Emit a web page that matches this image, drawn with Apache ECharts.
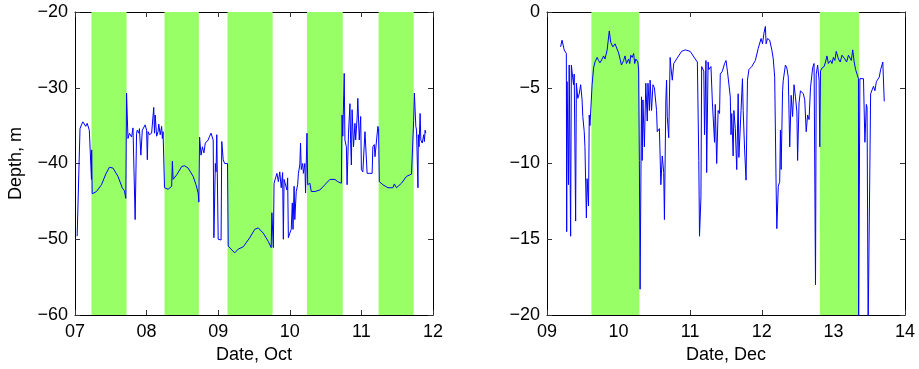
<!DOCTYPE html>
<html>
<head>
<meta charset="utf-8">
<script src="https://cdn.jsdelivr.net/npm/echarts@6/dist/echarts.min.js"></script>
<style>
  html, body { margin: 0; padding: 0; background: #fff; }
  #chart { width: 919px; height: 369px; }
</style>
</head>
<body>
<div id="chart"></div>
<script>
// October record: day of month, depth (m)
var octDay = [7.03, 7.05, 7.07, 7.09, 7.11, 7.15, 7.17, 7.20, 7.21, 7.23, 7.233, 7.24, 7.30, 7.37, 7.43, 7.48, 7.53, 7.60, 7.66, 7.69, 7.71,
  7.72, 7.74, 7.76, 7.79, 7.81, 7.83, 7.84, 7.85, 7.86, 7.87, 7.89, 7.90, 7.92, 7.94, 7.96, 7.98, 8.00, 8.01, 8.02, 8.04, 8.07, 8.09, 8.10,
  8.11, 8.12, 8.14, 8.16, 8.17, 8.19, 8.21, 8.22, 8.23, 8.24, 8.25, 8.30, 8.35, 8.36, 8.37, 8.42, 8.49, 8.53, 8.58, 8.65, 8.69, 8.72, 8.73,
  8.74, 8.76, 8.78, 8.80, 8.82, 8.86, 8.88, 8.90, 8.93, 8.94, 8.95, 8.96, 8.97, 8.98, 9.00, 9.04, 9.05, 9.07, 9.08, 9.09, 9.11, 9.13, 9.14,
  9.18, 9.23, 9.28, 9.35, 9.44, 9.51, 9.56, 9.63, 9.70, 9.74, 9.75, 9.77, 9.78, 9.80, 9.82, 9.84, 9.86, 9.88, 9.90, 9.91, 9.92, 9.94, 9.96,
  9.97, 9.98, 10.00, 10.02, 10.035, 10.045, 10.06, 10.07, 10.09, 10.11, 10.12, 10.14, 10.15, 10.16, 10.18, 10.19, 10.21, 10.22, 10.24, 10.25,
  10.28, 10.30, 10.35, 10.42, 10.49, 10.56, 10.63, 10.67, 10.72, 10.73, 10.74, 10.76, 10.77, 10.79, 10.80, 10.82, 10.84, 10.85, 10.86, 10.87,
  10.89, 10.91, 10.92, 10.94, 10.95, 10.97, 10.99, 11.00, 11.02, 11.05, 11.07, 11.08, 11.11, 11.12, 11.15, 11.16, 11.18, 11.19, 11.21, 11.23,
  11.24, 11.25, 11.30, 11.37, 11.44, 11.46, 11.49, 11.56, 11.63, 11.70, 11.72, 11.73, 11.74, 11.76, 11.77, 11.79, 11.795, 11.805, 11.82, 11.83,
  11.85, 11.87, 11.88, 11.89, 11.90];
var octDepth = [-49.6, -49.7, -35.4, -34.9, -34.5, -35.1, -34.7, -35.6, -35.8, -42.1, -38.2, -44.0, -43.7, -42.8, -41.4, -40.5, -40.6, -41.7, -43.2, -43.6, -44.6,
  -30.7, -36.7, -36.0, -36.5, -35.3, -35.4, -47.4, -47.4, -36.0, -35.6, -36.0, -35.4, -38.9, -35.6, -35.4, -34.9, -35.6, -39.5, -35.8, -36.2, -36.0, -36.2, -32.6,
  -36.0, -33.6, -36.4, -35.8, -34.8, -36.2, -35.1, -36.7, -35.8, -35.6, -43.2, -43.4, -43.0, -39.7, -42.1, -41.5, -40.4, -40.3, -40.6, -41.7, -42.8, -43.9, -45.1,
  -36.5, -38.9, -37.8, -38.6, -37.3, -36.9, -36.4, -36.0, -36.9, -49.8, -49.8, -40.0, -41.1, -36.2, -50.0, -50.1, -37.1, -39.5, -39.4, -40.0, -40.0, -40.0, -50.9,
  -51.3, -51.8, -51.3, -51.0, -49.8, -48.7, -48.5, -49.2, -50.3, -51.1, -46.5, -51.1, -42.6, -42.4, -41.3, -42.4, -41.1, -43.2, -41.2, -50.0, -42.1, -42.1, -43.5,
  -41.9, -49.8, -49.2, -48.7, -45.2, -48.7, -43.0, -47.4, -43.7, -42.8, -41.3, -40.2, -37.3, -40.8, -40.0, -41.3, -40.0, -43.9, -36.0, -42.8,
  -42.6, -43.7, -43.7, -43.5, -42.8, -42.1, -42.1, -42.4, -42.6, -33.6, -36.4, -28.1, -36.9, -37.8, -42.8, -36.0, -32.1, -37.3, -40.2, -32.9,
  -37.8, -34.7, -36.9, -34.0, -31.4, -36.9, -33.8, -40.8, -41.1, -35.8, -36.0, -41.3, -41.3, -41.1, -41.3, -37.8, -37.5, -39.1, -39.3, -35.1,
  -35.4, -42.4, -42.8, -43.2, -43.2, -42.7, -43.2, -42.6, -41.7, -41.4, -41.4, -34.3, -30.7, -35.1, -35.6, -43.2, -36.2, -37.8, -33.4, -36.9,
  -37.3, -36.2, -37.1, -35.6, -36.0];
// daytime shading, October
var octDayStart = [7.23, 8.25, 9.13, 10.24, 11.24];
var octDayEnd = [7.72, 8.73, 9.76, 10.74, 11.73];

// December record (-21 = off the bottom of the axis)
var decDay = [9.19, 9.21, 9.24, 9.27, 9.275, 9.28, 9.30, 9.31, 9.33, 9.34,
  9.35, 9.37, 9.38, 9.40, 9.41, 9.43, 9.45, 9.47, 9.49, 9.50,
  9.52, 9.53, 9.55, 9.56, 9.58, 9.59, 9.60, 9.63, 9.65, 9.67,
  9.70, 9.72, 9.74, 9.77, 9.79, 9.81, 9.84, 9.87, 9.89, 9.92,
  9.95, 10.00, 10.02, 10.04, 10.07, 10.09, 10.11, 10.14, 10.155, 10.17,
  10.19, 10.21, 10.225, 10.24, 10.27, 10.28, 10.29, 10.30, 10.32, 10.33,
  10.34, 10.36, 10.38, 10.40, 10.41, 10.43, 10.44, 10.46, 10.48, 10.50,
  10.53, 10.54, 10.57, 10.59, 10.61, 10.63, 10.64, 10.66, 10.67, 10.68,
  10.70, 10.72, 10.73, 10.75, 10.77, 10.81, 10.88, 10.93, 11.00, 11.07,
  11.10, 11.12, 11.13, 11.15, 11.16, 11.19, 11.20, 11.22, 11.23, 11.25,
  11.26, 11.29, 11.31, 11.34, 11.35, 11.37, 11.39, 11.41, 11.42, 11.45,
  11.48, 11.50, 11.52, 11.56, 11.57, 11.58, 11.60, 11.61, 11.63, 11.65,
  11.67, 11.68, 11.71, 11.73, 11.74, 11.76, 11.78, 11.80, 11.82, 11.86,
  11.91, 11.95, 11.99, 12.01, 12.03, 12.05, 12.06, 12.08, 12.11, 12.13,
  12.14, 12.16, 12.18, 12.20, 12.21, 12.23, 12.25, 12.26, 12.27, 12.29,
  12.30, 12.33, 12.35, 12.37, 12.39, 12.41, 12.43, 12.45, 12.47, 12.49,
  12.50, 12.52, 12.54, 12.56, 12.58, 12.60, 12.62, 12.64, 12.66, 12.68,
  12.71, 12.73, 12.75, 12.76, 12.78, 12.80, 12.81, 12.82, 12.84, 12.87,
  12.89, 12.91, 12.93, 12.96, 12.98, 13.00, 13.02, 13.04, 13.07, 13.095,
  13.12, 13.14, 13.16, 13.185, 13.21, 13.23, 13.25, 13.27, 13.29, 13.31,
  13.33, 13.35, 13.352, 13.36, 13.37, 13.39, 13.42, 13.44, 13.46, 13.47,
  13.485, 13.50, 13.52, 13.53, 13.56, 13.58, 13.60, 13.64, 13.66, 13.69,
  13.70, 13.71];
var decDepth = [-2.3, -1.86, -2.5, -2.74, -14.5, -4.6, -11.4, -3.5, -14.8, -3.5,
  -3.6, -4.8, -4.1, -13.8, -4.7, -5.7, -5.4, -4.8, -5.8, -6.9,
  -7.9, -8.9, -13.6, -11.0, -12.8, -6.8, -7.5, -4.8, -3.7, -3.3,
  -3.0, -3.2, -3.35, -3.1, -2.9, -3.1, -2.5, -1.25, -2.0, -2.3,
  -2.1, -2.7, -3.1, -3.5, -3.2, -2.9, -3.4, -3.1, -3.4, -2.85,
  -3.0, -2.74, -3.4, -3.1, -3.3, -3.9, -9.8, -18.3, -5.6, -9.8,
  -5.8, -8.9, -4.7, -7.2, -4.7, -6.5, -4.5, -6.5, -4.8, -5.0,
  -6.5, -7.9, -7.7, -11.4, -9.5, -10.6, -13.7, -5.8, -4.5, -6.9,
  -8.3, -3.0, -3.6, -4.5, -3.4, -3.1, -2.6, -2.5, -2.6, -3.1,
  -3.3, -9.8, -14.8, -12.2, -3.6, -3.9, -8.1, -3.2, -10.6, -3.3,
  -3.8, -3.6, -6.0, -8.6, -6.1, -10.0, -6.5, -6.7, -4.1, -3.9,
  -3.4, -3.2, -3.9, -5.6, -8.1, -6.7, -9.5, -6.5, -7.7, -10.4,
  -5.4, -9.6, -6.5, -4.4, -6.5, -9.1, -11.1, -4.5, -3.8, -3.6,
  -3.2, -2.4, -1.75, -2.1, -1.4, -0.95, -2.1, -1.75, -1.86, -1.75,
  -2.5, -3.1, -4.3, -11.5, -14.3, -11.5, -11.2, -7.8, -10.4, -5.2,
  -4.5, -3.5, -3.7, -4.3, -8.9, -5.5, -6.9, -4.8, -5.6, -6.6,
  -9.8, -6.0, -5.2, -5.3, -5.4, -5.8, -7.9, -6.8, -7.1, -5.0,
  -3.7, -3.4, -18.0, -4.1, -3.5, -4.5, -8.9, -3.9, -3.7, -3.6,
  -3.3, -2.9, -3.4, -3.2, -3.4, -3.0, -3.2, -2.6, -3.1, -3.3,
  -2.85, -2.9, -3.1, -3.3, -2.85, -2.9, -3.2, -2.5, -3.3, -3.8,
  -4.1, -4.4, -21.0, -21.0, -4.4, -4.3, -4.4, -8.6, -6.1, -6.3,
  -21.0, -21.0, -5.4, -5.4, -4.9, -5.2, -4.6, -4.3, -3.8, -3.3,
  -3.2, -5.9];
var decDayStart = [9.62, 12.81];
var decDayEnd = [10.29, 13.36];

function pairs(xs, ys) {
  return xs.map(function (x, i) { return [x, ys[i]]; });
}
function bands(starts, ends) {
  return starts.map(function (s, i) { return [{ xAxis: s }, { xAxis: ends[i] }]; });
}
function dayLabel(v) {
  return (v < 10 ? "0" : "") + v;
}
function minusLabel(v) {
  return String(v).replace("-", "\u2212");
}

var font = "Liberation Sans";
var ink = "#000";

function xAxes(gi, lo, hi, name) {
  var base = {
    type: "value", gridIndex: gi, min: lo, max: hi, interval: 1,
    axisLine: { show: true, onZero: false, lineStyle: { color: ink, width: 1 } },
    axisTick: { show: true, inside: true, length: 5, lineStyle: { color: "#333" } },
    splitLine: { show: false },
  };
  return [
    Object.assign({}, base, {
      position: "bottom",
      name: name, nameLocation: "middle", nameGap: 31,
      nameTextStyle: { fontFamily: font, fontSize: 18, color: ink },
      axisLabel: { formatter: dayLabel, fontFamily: font, fontSize: 18, color: ink, margin: 8 },
    }),
    Object.assign({}, base, { position: "top", axisLabel: { show: false } }),
  ];
}
function yAxes(gi, lo, hi, step, name) {
  var base = {
    type: "value", gridIndex: gi, min: lo, max: hi, interval: step,
    axisLine: { show: true, onZero: false, lineStyle: { color: ink, width: 1 } },
    axisTick: { show: true, inside: true, length: 5, lineStyle: { color: "#333" } },
    splitLine: { show: false },
  };
  return [
    Object.assign({}, base, {
      position: "left",
      name: name, nameLocation: "middle", nameGap: 50,
      nameTextStyle: { fontFamily: font, fontSize: 18, color: ink },
      axisLabel: { formatter: minusLabel, fontFamily: font, fontSize: 18, color: ink, margin: 7 },
    }),
    Object.assign({}, base, { position: "right", axisLabel: { show: false } }),
  ];
}

var chart = echarts.init(document.getElementById("chart"), null, { renderer: "canvas" });
chart.setOption({
  animation: false,
  backgroundColor: "#fff",
  grid: [
    { left: 75, top: 12, width: 358, height: 304 },
    { left: 547, top: 12, width: 358, height: 304 },
  ],
  xAxis: xAxes(0, 7, 12, "Date, Oct").concat(xAxes(1, 9, 14, "Date, Dec")),
  yAxis: yAxes(0, -60, -20, 10, "Depth, m").concat(yAxes(1, -20, 0, 5, "")),
  series: [
    {
      type: "line", xAxisIndex: 0, yAxisIndex: 0, data: [], z: 1,
      markArea: { silent: true, itemStyle: { color: "#99ff66" }, data: bands(octDayStart, octDayEnd) },
    },
    {
      type: "line", xAxisIndex: 0, yAxisIndex: 0, z: 3,
      data: pairs(octDay, octDepth),
      showSymbol: false, symbol: "none",
      lineStyle: { color: "#0000ff", width: 1 },
    },
    {
      type: "line", xAxisIndex: 2, yAxisIndex: 2, data: [], z: 1,
      markArea: { silent: true, itemStyle: { color: "#99ff66" }, data: bands(decDayStart, decDayEnd) },
    },
    {
      type: "line", xAxisIndex: 2, yAxisIndex: 2, z: 3,
      data: pairs(decDay, decDepth),
      showSymbol: false, symbol: "none", clip: true,
      lineStyle: { color: "#0000ff", width: 1 },
    },
  ],
});
</script>
</body>
</html>
